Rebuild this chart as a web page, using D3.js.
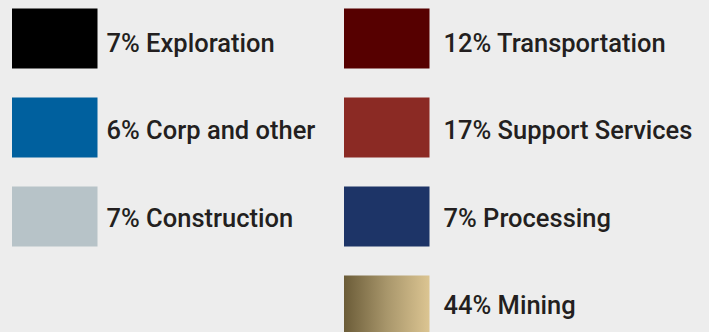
<!DOCTYPE html>
<html>
<head>
<meta charset="utf-8">
<script src="https://cdn.jsdelivr.net/npm/d3@7/dist/d3.min.js"></script>
<style>
  html, body { margin: 0; padding: 0; background: #ededed; }
  svg { display: block; }
  text { font-family: Roboto, "Noto Sans", sans-serif; font-weight: 500; fill: #231f20; }
</style>
</head>
<body>
<script>
// Sector share of spending, shown as a two-column legend
const categories = ["Exploration", "Corp and other", "Construction",
                    "Transportation", "Support Services", "Processing", "Mining"];
const shares = [7, 6, 7, 12, 17, 7, 44];
const columns = [0, 0, 0, 1, 1, 1, 1];
const rows = [0, 1, 2, 0, 1, 2, 3];
const colors = ["#000000", "#00609e", "#b7c3c8", "#560000", "#8b2a24", "#1d3467", "mining"];

const W = 709, H = 332;
const svg = d3.select("body").append("svg").attr("width", W).attr("height", H);

const defs = svg.append("defs");
const grad = defs.append("linearGradient").attr("id", "mining")
  .attr("x1", "0%").attr("x2", "100%").attr("y1", "0%").attr("y2", "0%");
grad.append("stop").attr("offset", "0%").attr("stop-color", "#6b5c38");
grad.append("stop").attr("offset", "50%").attr("stop-color", "#a8966b");
grad.append("stop").attr("offset", "100%").attr("stop-color", "#dcc592");

const data = categories.map((c, i) => ({
  label: `${shares[i]}% ${c}`, col: columns[i], row: rows[i], color: colors[i]
}));

const swatchW = 85.5, swatchH = 60;
const x = d3.scaleOrdinal().domain([0, 1]).range([12, 344]);
const textGap = d3.scaleOrdinal().domain([0, 1]).range([9, 14]);
const ySwatch = d3.scaleLinear().domain([0, 3]).range([8.5, 275.5]);
const yText = d3.scaleLinear().domain([0, 3]).range([51.5, 314]);

const g = svg.selectAll("g.item").data(data).join("g").attr("class", "item");

g.append("rect")
  .attr("x", d => x(d.col))
  .attr("y", d => ySwatch(d.row))
  .attr("width", swatchW)
  .attr("height", swatchH)
  .attr("fill", d => d.color === "mining" ? "url(#mining)" : d.color);

g.append("text")
  .attr("x", d => x(d.col) + swatchW + textGap(d.col))
  .attr("y", d => yText(d.row))
  .attr("font-size", 25.5)
  .text(d => d.label);
</script>
</body>
</html>
